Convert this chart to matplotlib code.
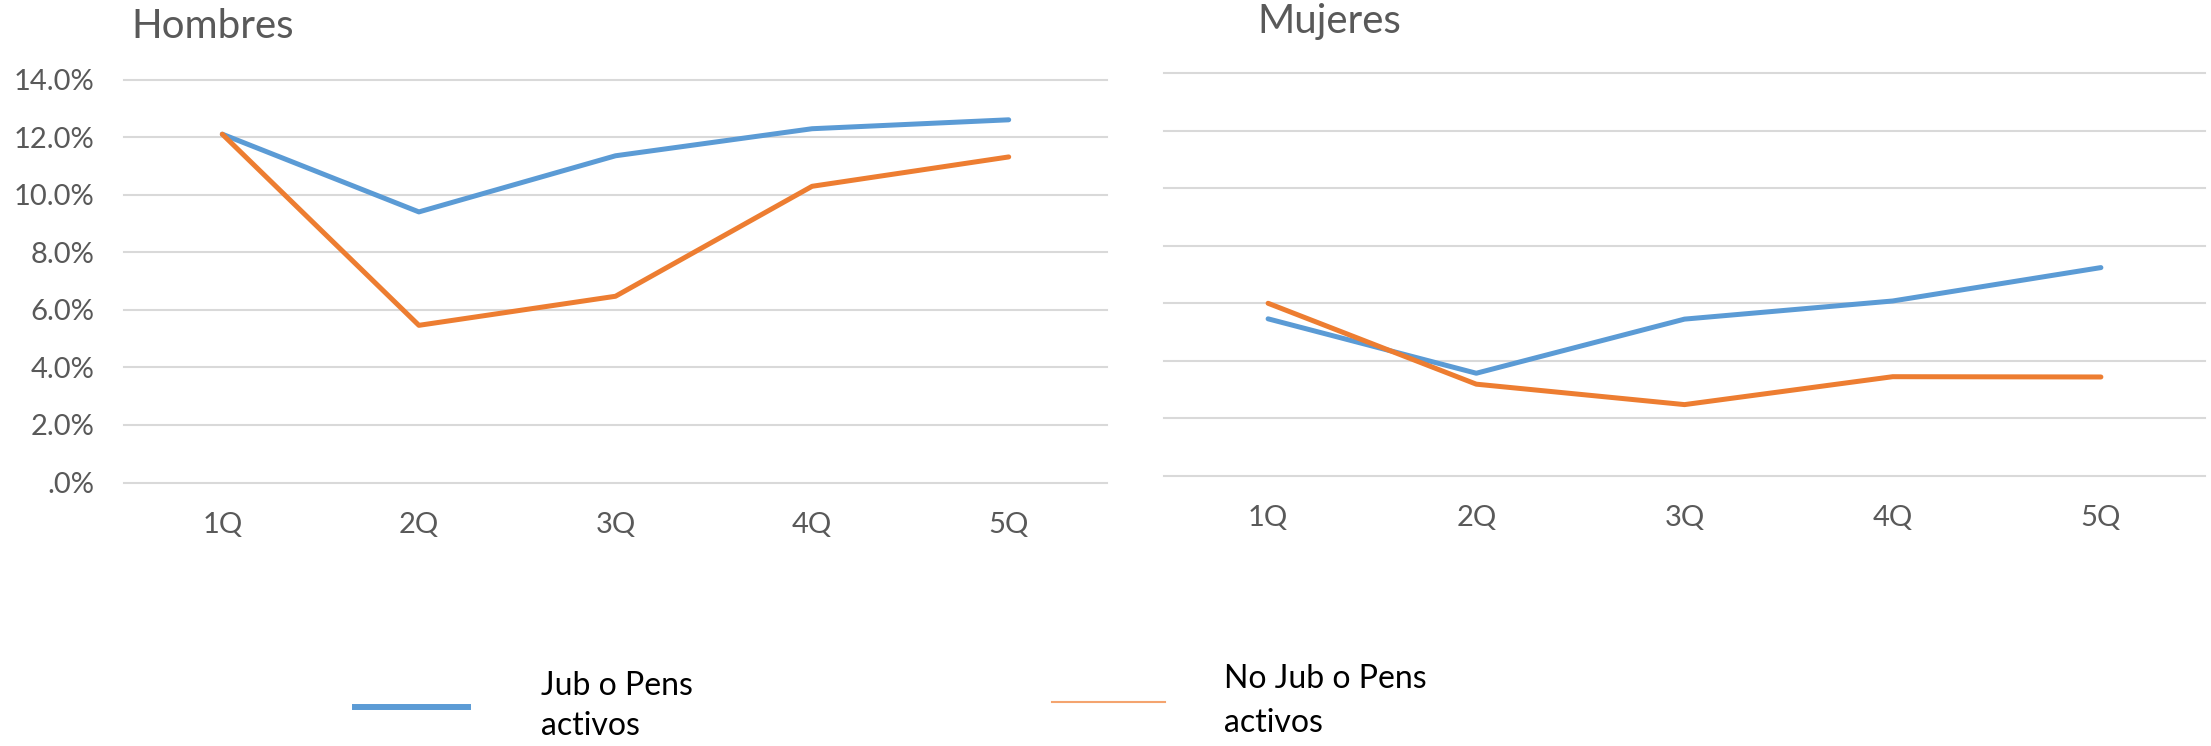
import matplotlib
matplotlib.use('Agg')
import matplotlib.pyplot as plt
from matplotlib.lines import Line2D

plt.rcParams['font.family'] = ['Lato', 'DejaVu Sans']

# ---- data ----
categories = ['1Q', '2Q', '3Q', '4Q', '5Q']
hombres_jub = [12.1, 9.40, 11.35, 12.29, 12.60]
hombres_nojub = [12.1, 5.46, 6.47, 10.29, 11.31]
mujeres_jub = [5.46, 3.57, 5.45, 6.08, 7.24]
mujeres_nojub = [6.00, 3.19, 2.48, 3.45, 3.44]
y_ticks = [0, 2, 4, 6, 8, 10, 12, 14]
y_tick_labels = ['.0%', '2.0%', '4.0%', '6.0%', '8.0%', '10.0%', '12.0%', '14.0%']
series_labels = ['Jub o Pens\nactivos', 'No Jub o Pens\nactivos']
panel_titles = ['Hombres', 'Mujeres']

# ---- style ----
W, H = 2211, 746
BLUE = '#5B9BD5'
ORANGE = '#ED7D31'
GRID = '#D9D9D9'
TXT = '#595959'
TICK_FS = 21
TITLE_FS = 29
LEG_FS = 23

fig = plt.figure(figsize=(W / 100, H / 100), dpi=100)
fig.patch.set_facecolor('white')

ax1 = fig.add_axes([124 / W, 1 - 482.5 / H, 983 / W, 403 / H])
ax2 = fig.add_axes([1164 / W, 1 - 476 / H, 1041 / W, 403 / H])

x = list(range(len(categories)))
for ax, jub, nojub in [(ax1, hombres_jub, hombres_nojub), (ax2, mujeres_jub, mujeres_nojub)]:
    ax.plot(x, jub, color=BLUE, lw=3.6, solid_capstyle='round', solid_joinstyle='round', zorder=3)
    ax.plot(x, nojub, color=ORANGE, lw=3.6, solid_capstyle='round', solid_joinstyle='round', zorder=3)
    ax.set_xlim(-0.5, len(categories) - 0.5)
    ax.set_ylim(0, 14)
    ax.set_yticks(y_ticks)
    ax.set_xticks(x)
    ax.set_xticklabels(categories)
    ax.yaxis.grid(True, color=GRID, lw=1.5)
    for gl in ax.get_ygridlines():
        gl.set_clip_on(False)
    ax.set_axisbelow(True)
    for s in ax.spines.values():
        s.set_visible(False)
    ax.tick_params(axis='both', length=0, labelsize=TICK_FS, labelcolor=TXT)
    ax.tick_params(axis='x', pad=21)
    ax.tick_params(axis='y', pad=21)

ax1.set_yticklabels(y_tick_labels)
ax2.set_yticklabels([])

fig.text(131 / W, 1 - 26 / H, panel_titles[0], ha='left', va='center', fontsize=TITLE_FS, color=TXT)
fig.text(1257 / W, 1 - 22 / H, panel_titles[1], ha='left', va='center', fontsize=TITLE_FS, color=TXT)

fs_px = LEG_FS * 100 / 72
leg1 = fig.legend(handles=[Line2D([], [], color=BLUE, lw=4.3)], labels=[series_labels[0]],
                  loc='center left', bbox_to_anchor=(355 / W, 1 - 706 / H), frameon=False,
                  handlelength=113 / fs_px, handletextpad=73 / fs_px, borderpad=0, borderaxespad=0,
                  fontsize=LEG_FS, labelcolor='black')
leg2 = fig.legend(handles=[Line2D([], [], color='#F4A46F', lw=1.5)], labels=[series_labels[1]],
                  loc='center left', bbox_to_anchor=(1052 / W, 1 - 701 / H), frameon=False,
                  handlelength=113 / fs_px, handletextpad=59 / fs_px, borderpad=0, borderaxespad=0,
                  fontsize=LEG_FS, labelcolor='black')
for t in leg1.get_texts():
    t.set_linespacing(1.45)
for t in leg2.get_texts():
    t.set_linespacing(1.55)

fig.savefig('out.png', dpi=100, facecolor='white')
